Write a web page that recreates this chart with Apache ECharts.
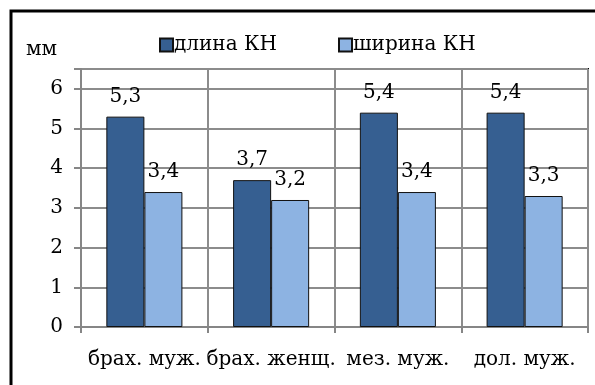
<!DOCTYPE html>
<html><head><meta charset="utf-8">
<script src="https://cdn.jsdelivr.net/npm/echarts@6/dist/echarts.min.js"></script>
<style>html,body{margin:0;padding:0;background:#fff}#c{width:595px;height:385px}</style>
</head><body><div id="c"></div>
<script>
const categories = ['брах. муж.', 'брах. женщ.', 'мез. муж.', 'дол. муж.'];
const lengthKN = [5.3, 3.7, 5.4, 5.4];
const widthKN = [3.4, 3.2, 3.4, 3.3];
const seriesNames = ['длина КН', 'ширина КН'];
const yTicks = [0, 1, 2, 3, 4, 5, 6];

const FONT = 'DejaVu Serif';
const FS = 20;
const chart = echarts.init(document.getElementById('c'), null, {renderer: 'canvas'});
const lbl = {
  show: true, position: 'top', distance: 10,
  color: '#000', fontFamily: FONT, fontSize: FS,
  formatter: p => String(p.value).replace('.', ',')
};
chart.setOption({
  animation: false,
  backgroundColor: '#fff',
  grid: {left: 81, right: 7, top: 69, bottom: 58, show: true, borderColor: '#000', borderWidth: 2, backgroundColor: 'transparent'},
  graphic: [
    {type: 'rect', shape: {x: 11, y: 11, width: 620, height: 420}, style: {fill: 'none', stroke: '#000', lineWidth: 3}, silent: true},
    {type: 'text', left: 26, top: 40, style: {text: 'мм', font: FS + 'px "' + FONT + '"', fill: '#000'}}
  ],
  legend: [
    {data: [seriesNames[0]], left: 159, top: 35, padding: 0, itemWidth: 13, itemHeight: 13, itemGap: 0, icon: 'rect',
     textStyle: {fontFamily: FONT, fontSize: FS, color: '#000', padding: [0,0,0,-4]}},
    {data: [seriesNames[1]], left: 338, top: 35, padding: 0, itemWidth: 13, itemHeight: 13, itemGap: 0, icon: 'rect',
     textStyle: {fontFamily: FONT, fontSize: FS, color: '#000', padding: [0,0,0,-4]}}
  ],
  xAxis: {
    type: 'category', data: categories,
    axisLine: {lineStyle: {color: '#868686', width: 2}},
    axisTick: {show: true, length: 6, interval: 0, lineStyle: {color: '#868686', width: 2}},
    splitLine: {show: true, interval: 0, lineStyle: {color: '#8c8c8c', width: 2}},
    axisLabel: {color: '#000', fontFamily: FONT, fontSize: FS, margin: 23, interval: 0}
  },
  yAxis: {
    type: 'value', min: 0, max: 6.5, interval: 1,
    axisLine: {show: true, lineStyle: {color: '#868686', width: 2}},
    axisTick: {show: true, length: 7, lineStyle: {color: '#868686', width: 2}},
    splitLine: {show: true, lineStyle: {color: '#8c8c8c', width: 2}},
    axisLabel: {color: '#000', fontFamily: FONT, fontSize: FS, margin: 18,
      formatter: v => yTicks.includes(v) ? String(v) : ''}
  },
  series: [
    {name: seriesNames[0], type: 'bar', data: lengthKN, barGap: '0%', barCategoryGap: '40%',
     itemStyle: {color: '#365f91', borderColor: '#111', borderWidth: 1}, label: lbl},
    {name: seriesNames[1], type: 'bar', data: widthKN,
     itemStyle: {color: '#8db3e2', borderColor: '#111', borderWidth: 1}, label: lbl}
  ]
});
</script></body></html>
